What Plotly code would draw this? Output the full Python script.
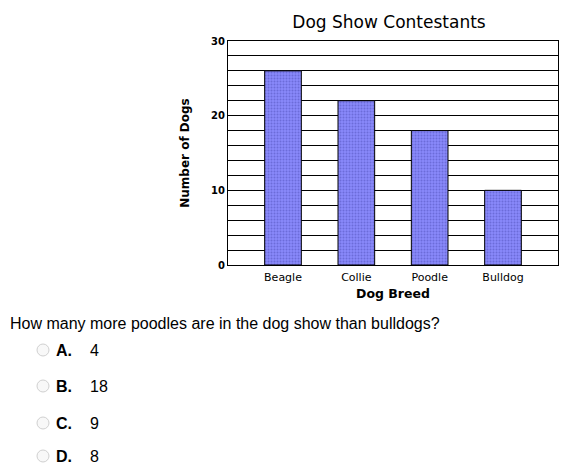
import plotly.graph_objects as go

breeds = ["Beagle", "Collie", "Poodle", "Bulldog"]
dog_counts = [26, 22, 18, 10]
y_ticks = [0, 10, 20, 30]

question = "How many more poodles are in the dog show than bulldogs?"
option_letters = ["A.", "B.", "C.", "D."]
option_values = ["4", "18", "9", "8"]

# page body adds an 8px offset, so the figure is drawn a bit smaller
OFF = 8
W, H = 584 - 2 * OFF, 474 - 2 * OFF
L, T = 228 - OFF, 41 - OFF
R = W - (558 - OFF)
B = H - (265 - OFF)
PW, PH = W - L - R, H - T - B


def px_x(x):
    return (x - OFF - L) / PW


def px_y(y):
    return (H - B - (y - OFF)) / PH


fig = go.Figure()
fig.add_trace(go.Bar(
    x=breeds, y=dog_counts, width=0.5,
    marker=dict(
        color="#8585f7",
        line=dict(color="black", width=1),
        pattern=dict(shape=".", fgcolor="#5050b8", bgcolor="#8888fa",
                     size=3, solidity=0.35),
    ),
    hoverinfo="skip",
))

ann = []
ann.append(dict(x=px_x(8), y=px_y(323), xref="paper", yref="paper",
                text=question, showarrow=False, xanchor="left", yanchor="middle",
                font=dict(family="Liberation Sans, Arial", size=16, color="black")))
shapes = []
opt_y = [350, 386, 423, 456]
for letter, val, yy in zip(option_letters, option_values, opt_y):
    ann.append(dict(x=px_x(54), y=px_y(yy), xref="paper", yref="paper",
                    text="<b>" + letter + "</b>", showarrow=False,
                    xanchor="left", yanchor="middle",
                    font=dict(family="Liberation Sans, Arial", size=16, color="black")))
    ann.append(dict(x=px_x(88), y=px_y(yy), xref="paper", yref="paper",
                    text=val, showarrow=False, xanchor="left", yanchor="middle",
                    font=dict(family="Liberation Sans, Arial", size=16, color="black")))
    shapes.append(dict(type="circle", xref="paper", yref="paper",
                       xsizemode="pixel", ysizemode="pixel",
                       xanchor=px_x(43), yanchor=px_y(yy),
                       x0=-6, x1=6, y0=-6, y1=6,
                       line=dict(color="#d0d0d0", width=1),
                       fillcolor="#f8f8f8"))

fig.update_layout(
    width=W, height=H,
    margin=dict(l=L, r=R, t=T, b=B),
    paper_bgcolor="white", plot_bgcolor="white",
    showlegend=False,
    font=dict(family="DejaVu Sans, Verdana", color="black"),
    title=dict(text="Dog Show Contestants", x=px_x(389), xref="paper",
               y=1 - (22 - OFF) / H, yanchor="middle", xanchor="center",
               font=dict(size=17, color="black")),
    annotations=ann,
    shapes=shapes,
)
fig.update_xaxes(
    range=[-0.75, 3.75], showgrid=False,
    showline=True, linecolor="black", linewidth=1, mirror=True,
    ticks="", tickfont=dict(size=11), ticklabelstandoff=2,
    title=dict(text="<b>Dog Breed</b>", font=dict(size=12.5), standoff=6),
)
fig.update_yaxes(
    range=[0, 30], tickvals=list(range(0, 31, 2)),
    ticktext=["<b>%d</b>" % v if v in y_ticks else "" for v in range(0, 31, 2)],
    showgrid=True, gridcolor="black", gridwidth=1,
    showline=True, linecolor="black", linewidth=1, mirror=True,
    zeroline=False, ticks="", tickfont=dict(size=10),
    title=dict(text="<b>Number of Dogs</b>", font=dict(size=12), standoff=18),
)

fig.write_html("out.html")
